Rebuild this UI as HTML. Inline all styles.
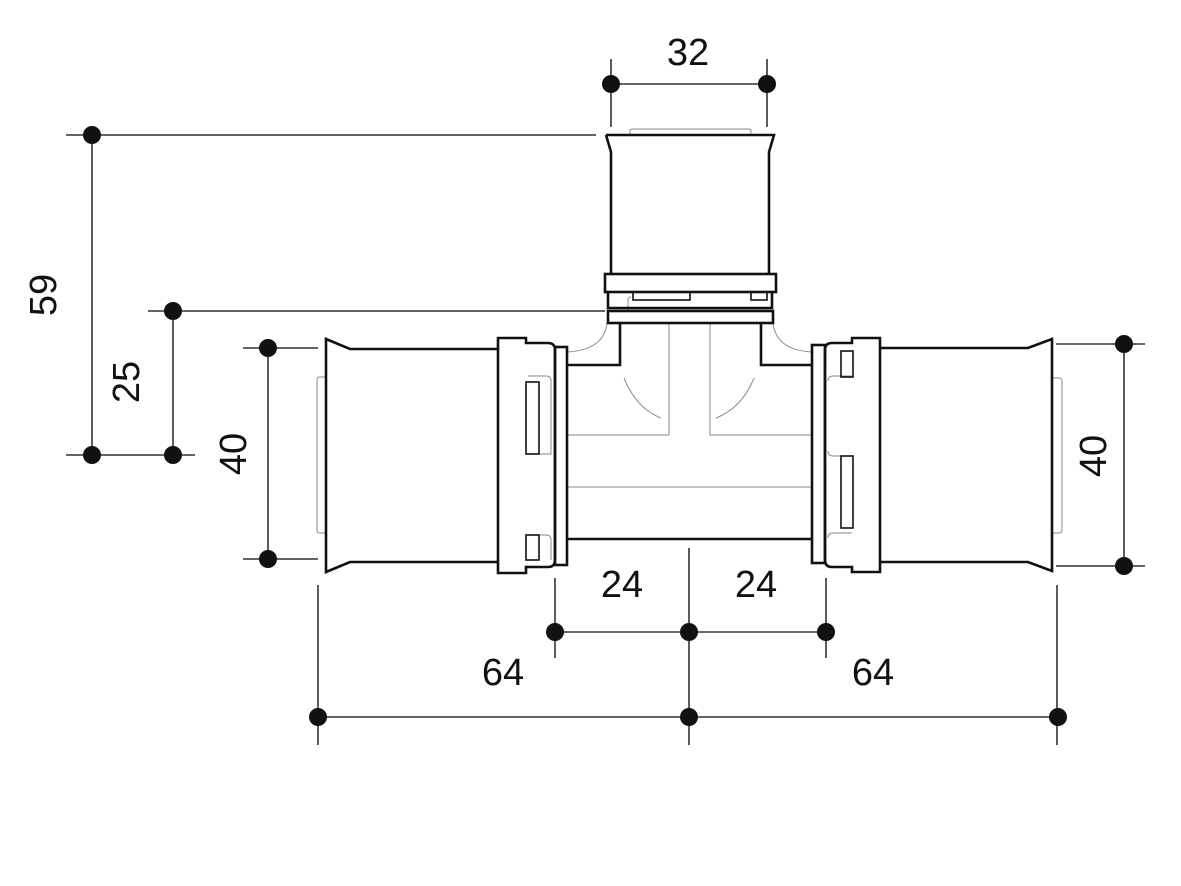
<!DOCTYPE html>
<html><head><meta charset="utf-8"><style>
html,body{margin:0;padding:0;background:#fff;}
svg{display:block;}
text{font-family:"Liberation Sans",sans-serif;font-size:38px;fill:#111;}
</style></head><body>
<svg width="1181" height="886" viewBox="0 0 1181 886" xmlns="http://www.w3.org/2000/svg">
<g stroke="#333" stroke-width="1.6" fill="none">
<line x1="611" y1="59" x2="611" y2="127"/><line x1="767" y1="59" x2="767" y2="127"/>
<line x1="611" y1="84" x2="767" y2="84"/>
<line x1="66" y1="135" x2="596" y2="135"/>
<line x1="92" y1="135" x2="92" y2="455"/>
<line x1="66" y1="455" x2="195" y2="455"/>
<line x1="148" y1="311" x2="605" y2="311"/>
<line x1="173" y1="311" x2="173" y2="455"/>
<line x1="243" y1="348" x2="318" y2="348"/><line x1="243" y1="559" x2="318" y2="559"/>
<line x1="268" y1="348" x2="268" y2="559"/>
<line x1="1056" y1="344" x2="1145" y2="344"/><line x1="1056" y1="566" x2="1145" y2="566"/>
<line x1="1124" y1="344" x2="1124" y2="566"/>
<line x1="555" y1="578" x2="555" y2="658"/><line x1="826" y1="578" x2="826" y2="658"/>
<line x1="689" y1="548" x2="689" y2="745"/>
<line x1="555" y1="632" x2="826" y2="632"/>
<line x1="318" y1="585" x2="318" y2="745"/><line x1="1057" y1="585" x2="1057" y2="745"/>
<line x1="318" y1="717" x2="1057" y2="717"/>
</g>
<g fill="#111">
<circle cx="611" cy="84" r="9"/><circle cx="767" cy="84" r="9"/>
<circle cx="92" cy="135" r="9"/><circle cx="92" cy="455" r="9"/>
<circle cx="173" cy="311" r="9"/><circle cx="173" cy="455" r="9"/>
<circle cx="268" cy="348" r="9"/><circle cx="268" cy="559" r="9"/>
<circle cx="1124" cy="344" r="9"/><circle cx="1124" cy="566" r="9"/>
<circle cx="555" cy="632" r="9"/><circle cx="689" cy="632" r="9"/><circle cx="826" cy="632" r="9"/>
<circle cx="318" cy="717" r="9"/><circle cx="689" cy="717" r="9"/><circle cx="1058" cy="717" r="9"/>
</g>
<text x="688" y="65" text-anchor="middle">32</text>
<text x="622" y="597" text-anchor="middle">24</text>
<text x="756" y="597" text-anchor="middle">24</text>
<text x="503" y="685" text-anchor="middle">64</text>
<text x="873" y="685" text-anchor="middle">64</text>
<text transform="translate(56,295) rotate(-90)" text-anchor="middle">59</text>
<text transform="translate(139,382) rotate(-90)" text-anchor="middle">25</text>
<text transform="translate(246,454) rotate(-90)" text-anchor="middle">40</text>
<text transform="translate(1106,456) rotate(-90)" text-anchor="middle">40</text>

<g stroke="#888" stroke-width="1" fill="none">
<path d="M630 135 V131 Q630 129 633 129 H748 Q751 129 751 131 V135"/>
<path d="M326 377 H320 Q317 377 317 380 V530 Q317 533 320 533 H326"/>
<path d="M1053 378 H1059 Q1062 378 1062 381 V530 Q1062 533 1059 533 H1053"/>
<path d="M669 323 V435 H567"/><path d="M710 323 V435 H812"/>
<line x1="567" y1="487" x2="812" y2="487"/>
<path d="M624 378 Q636 408 661 418"/><path d="M754 378 Q742 408 716 418"/>
<path d="M607 323 Q604 350 567 352"/><path d="M773 323 Q776 350 812 352"/>
<path d="M528 376 H546 Q551 376 551 381 V454 H528"/>
<path d="M528 535 H546 Q551 535 551 540 V560"/>
<path d="M852 376 H833 Q828 376 828 381"/>
<path d="M852 456 H833 Q828 456 828 451"/>
<path d="M852 533 H833 Q828 533 828 538"/>
<line x1="555" y1="372" x2="555" y2="540"/>
<line x1="825" y1="372" x2="825" y2="540"/>
<path d="M628 310 V300 Q628 297 631 297"/>
</g>

<g stroke="#111" stroke-width="2.6" fill="none" stroke-linejoin="miter">
<path d="M606 135 H774 L769 152 V274 M606 135 L611 152 V274"/>
<rect x="605" y="274" width="171" height="18"/>
<path d="M608 292 V308 H772 V292"/>
<rect x="608" y="311" width="165" height="12"/>
<path d="M620 323 V365 H567"/><path d="M761 323 V365 H812"/>
<line x1="567" y1="539" x2="812" y2="539"/>
<rect x="555" y="347" width="12" height="218"/>
<rect x="812" y="345" width="13" height="218"/>
<path d="M498 338 H526 V343 H548 Q555 343 555 350 V560 Q555 567 548 567 H526 V573 H498 Z"/>
<path d="M498 349 H350 L326 339 V572 L350 562 H498"/>
<path d="M880 338 H852 V343 H832 Q825 343 825 350 V560 Q825 567 832 567 H852 V572 H880 Z"/>
<path d="M880 348 H1028 L1052 339 V571 L1028 562 H880"/>
</g>
<g stroke="#111" stroke-width="1.6" fill="none">
<rect x="633" y="292" width="57" height="8"/>
<rect x="751" y="292" width="16" height="8"/>
<rect x="526" y="382" width="13" height="72"/>
<rect x="526" y="535" width="13" height="25"/>
<rect x="841" y="351" width="12" height="26"/>
<rect x="841" y="456" width="12" height="72"/>
</g>
</svg>
</body></html>
